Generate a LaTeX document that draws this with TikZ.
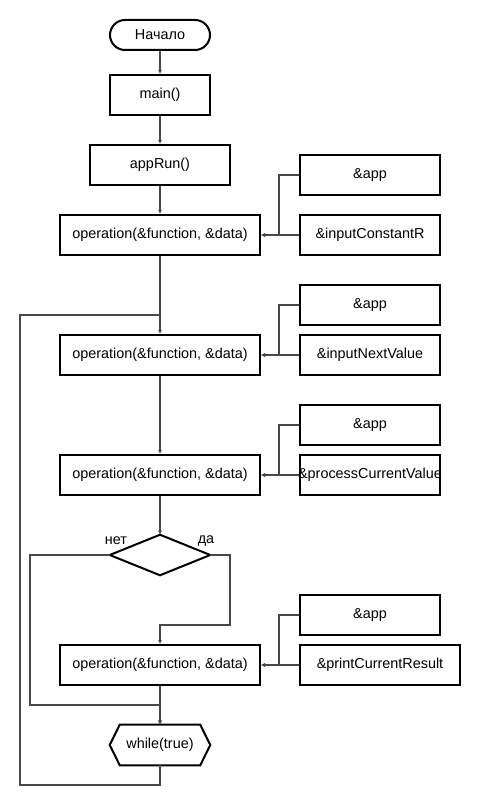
\documentclass[tikz,border=0pt]{standalone}
\usepackage{fontspec}
\setmainfont{Liberation Sans}
\usetikzlibrary{arrows.meta}
\definecolor{conc}{RGB}{70,72,78}
\begin{document}
\begin{tikzpicture}[x=0.75pt,y=-0.75pt,
  font=\fontsize{10.8}{13}\selectfont,
  sz/.style 2 args={minimum width=#1*0.75pt, minimum height=#2*0.75pt},
  box/.style={draw=black, line width=1.5pt, inner sep=0pt, fill=white},
  term/.style={box, rounded corners=11.25pt},
  plain/.style={inner sep=0pt},
  con/.style={draw=conc, line width=1.2pt},
  arr/.style={con, -{Latex[length=3pt,width=3pt]}}]
\fill[white] (0,0) rectangle (480,805);
\useasboundingbox (0,0) rectangle (480,805);
% main column
\node[term, sz={100}{30}] (start) at (160,35) {Начало};
\node[box, sz={100}{40}] (main) at (160,95) {main()};
\node[box, sz={140}{40}] (run) at (160,165) {appRun()};
\node[box, sz={200}{40}] (op1) at (160,235) {operation(\&function, \&data)};
\node[box, sz={200}{40}] (op2) at (160,355) {operation(\&function, \&data)};
\node[box, sz={200}{40}] (op3) at (160,475) {operation(\&function, \&data)};
\node[plain, sz={100}{40}] (dec) at (160,555) {};
\node[box, sz={200}{40}] (op4) at (160,665) {operation(\&function, \&data)};
\node[plain, sz={100}{40}] (wh) at (160,745) {while(true)};
% side boxes
\node[box, sz={140}{40}] (a1) at (370,175) {\&app};
\node[box, sz={140}{40}] (f1) at (370,235) {\&inputConstantR};
\node[box, sz={140}{40}] (a2) at (370,305) {\&app};
\node[box, sz={140}{40}] (f2) at (370,355) {\&inputNextValue};
\node[box, sz={140}{40}] (a3) at (370,425) {\&app};
\node[box, sz={140}{40}] (f3) at (370,475) {\makebox[105pt][c]{\&processCurrentValue}};
\node[box, sz={140}{40}] (a4) at (370,615) {\&app};
\node[box, sz={160}{40}] (f4) at (380,665) {\&printCurrentResult};
% decision and hexagon shapes
\draw[black, line width=1.5pt] (dec.north) -- (dec.east) -- (dec.south) -- (dec.west) -- cycle;
\draw[black, line width=1.5pt, line join=miter] ([xshift=7.5pt]wh.north west) -- ([xshift=-7.5pt]wh.north east) -- (wh.east) -- ([xshift=-7.5pt]wh.south east) -- ([xshift=7.5pt]wh.south west) -- (wh.west) -- cycle;
% labels
\node[plain] (no) at (116,541) {нет};
\node[plain] (yes) at (206,541) {да};
% connectors main column
\coordinate (lp) at (160,315);
\draw[arr] (start) -- (main);
\draw[arr] (main) -- (run);
\draw[arr] (run) -- (op1);
\draw[arr] (op1) -- (op2);
\draw[arr] (op2) -- (op3);
\draw[arr] (op3) -- (dec.north);
\draw[arr] (dec.east) -- ++(20,0) -- ++(0,70) -| (op4.north);
\draw[arr] (dec.west) -- ++(-80,0) -- ++(0,150) -| (wh.north);
\draw[arr] (op4) -- (wh.north);
\draw[con] (wh.south) -- ++(0,20) -- ++(-140,0) |- (lp);
% side connectors
\draw[arr] (a1.west) -- ++(-20,0) |- (op1.east);
\draw[arr] (f1.west) -- (op1.east);
\draw[arr] (a2.west) -- ++(-20,0) |- (op2.east);
\draw[arr] (f2.west) -- (op2.east);
\draw[arr] (a3.west) -- ++(-20,0) |- (op3.east);
\draw[arr] (f3.west) -- (op3.east);
\draw[arr] (a4.west) -- ++(-20,0) |- (op4.east);
\draw[arr] (f4.west) -- (op4.east);
\end{tikzpicture}
\end{document}
